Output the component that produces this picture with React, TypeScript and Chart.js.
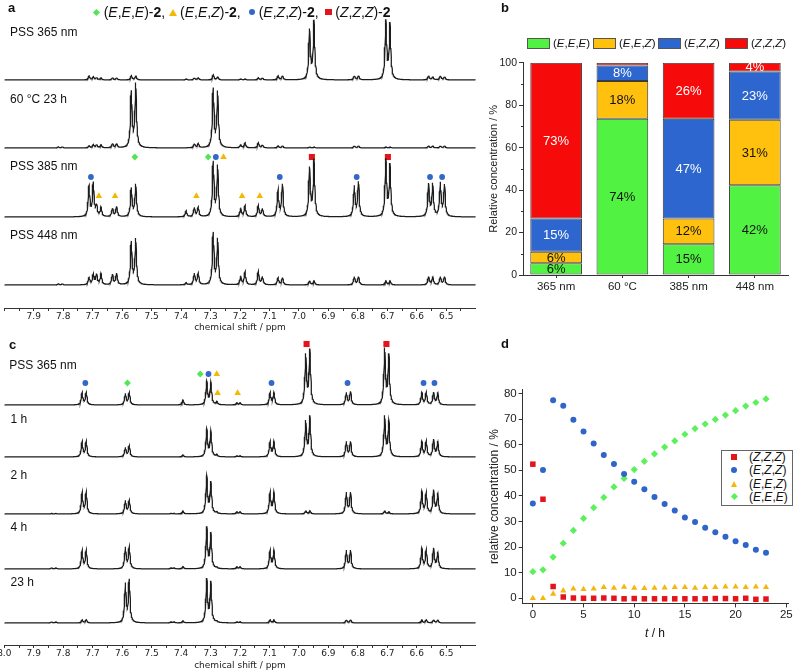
import React, { useEffect, useRef } from 'react';
import { Chart, registerables } from 'chart.js';
Chart.register(...registerables);

const FONT = "'Liberation Sans', Arial, Helvetica, sans-serif";
const NMR_FONT = "'DejaVu Sans', Verdana, sans-serif";

// ---------------- Panel a : 1H NMR line list (ppm) and intensities ----------------
const linesA = [7.817, 7.803, 7.7125, 7.698, 7.687, 7.672, 7.633, 7.619, 7.569, 7.554, 7.383, 7.355, 7.342, 7.291, 7.276, 7.198, 7.183, 7.138, 7.124, 7.071, 7.056, 6.964, 6.949, 6.812, 6.798, 6.705, 6.691, 6.560, 6.546, 6.520, 6.506];
const intA365 = [0, 0, 4, 3, 2, 2, 2, 2, 4, 4, 1, 2, 2, 5, 3, 1, 1, 2, 2, 4, 4, 49, 58, 4, 4, 58, 55, 4, 3, 4, 3];
const intA60 = [1, 1, 2, 3, 3, 3, 4, 4, 55, 63, 0, 4, 4, 58, 55, 3, 5, 5, 3, 2, 2, 1, 1, 2, 2, 1, 1, 2, 2, 2, 2];
const intA385 = [0, 0, 30, 33, 10, 9, 8, 10, 28, 32, 6, 9, 9, 54, 50, 8, 11, 11, 8, 26, 32, 48, 56, 30, 34, 56, 51, 32, 32, 33, 31];
const intA448 = [1, 1, 7, 10, 10, 11, 10, 11, 42, 45, 2, 11, 11, 51, 45, 8, 13, 13, 8, 7, 7, 4, 4, 8, 8, 4, 4, 8, 8, 8, 8];
const labelsA = ['PSS 365 nm', '60 °C 23 h', 'PSS 385 nm', 'PSS 448 nm'];

// signal assignments (ppm) marked on the PSS 385 nm spectrum: [ppm, row]
const marksA_EEE = [[7.557, 0], [7.308, 0]];
const marksA_EEZ = [[7.256, 0], [7.679, 2], [7.624, 2], [7.348, 2], [7.193, 2], [7.133, 2]];
const marksA_EZZ = [[7.282, 0], [7.706, 1], [7.065, 1], [6.804, 1], [6.555, 1], [6.514, 1]];
const marksA_ZZZ = [[6.956, 0], [6.698, 0]];

// ---------------- Panel c : thermal relaxation spectra ----------------
const linesC = [7.840, 7.825, 7.736, 7.722, 7.589, 7.576, 7.435, 7.425, 7.394, 7.313, 7.299, 7.279, 7.211, 7.200, 7.098, 7.085, 6.977, 6.963, 6.839, 6.825, 6.709, 6.695, 6.583, 6.568, 6.543, 6.529];
const intC365 = [0, 0, 12, 12, 11, 12, 0, 0, 5, 23, 22, 3, 2, 2, 12, 12, 49, 54, 12, 13, 55, 49, 12, 12, 12, 12];
const intC1h = [0, 0, 15, 15, 9, 11, 0, 0, 2, 27, 25, 2, 1, 1, 15, 15, 35, 40, 15, 15, 40, 35, 15, 15, 17, 15];
const intC2h = [0.5, 0.5, 21, 21, 13, 13, 0.5, 0.5, 3, 37, 31, 1.5, 2, 2, 21, 21, 3, 3, 21, 21, 3, 2, 22, 20, 23, 20];
const intC4h = [1, 1, 18, 18, 21, 21, 1, 1, 2.3, 41, 35, 1, 2, 2, 18, 18, 0, 0, 18, 18, 0, 0, 20, 18, 20, 16];
const intC23h = [1, 1, 3, 3, 38, 42, 1, 1, 2, 43, 40, 1, 1, 1, 3, 3, 0, 0, 3, 3, 0, 0, 3, 3, 3, 3];
const labelsC = ['PSS 365 nm', '1 h', '2 h', '4 h', '23 h'];

const marksC_EEE = [[7.335, 1], [7.582, 2]];
const marksC_EEZ = [[7.279, 1], [7.276, 3], [7.208, 3]];
const marksC_EZZ = [[7.307, 1], [7.725, 2], [7.093, 2], [6.835, 2], [6.577, 2], [6.540, 2]];
const marksC_ZZZ = [[6.974, 0], [6.703, 0]];

const ppmTickLabels = ['8.0', '7.9', '7.8', '7.7', '7.6', '7.5', '7.4', '7.3', '7.2', '7.1', '7.0', '6.9', '6.8', '6.7', '6.6', '6.5'];

// ---------------- Panel b : stacked composition ----------------
const catsB = ['365 nm', '60 °C', '385 nm', '448 nm'];
const bEEE = [5.5, 73.6, 14.5, 42.3];
const bEEZ = [5.5, 17.8, 12.1, 30.8];
const bEZZ = [15.6, 7.3, 47.0, 22.7];
const bZZZ = [73.4, 1.3, 26.4, 4.2];
const bLabEEE = ['6%', '74%', '15%', '42%'];
const bLabEEZ = ['6%', '18%', '12%', '31%'];
const bLabEZZ = ['15%', '8%', '47%', '23%'];
const bLabZZZ = ['73%', '', '26%', '4%'];

// ---------------- Panel d : kinetics ----------------
const hours = [0, 1, 2, 3, 4, 5, 6, 7, 8, 9, 10, 11, 12, 13, 14, 15, 16, 17, 18, 19, 20, 21, 22, 23];
const dZZZ = [52.4, 38.7, 4.6, 0.5, 0.1, 0, 0, 0.1, 0, -0.2, -0.1, -0.2, -0.2, -0.2, -0.2, -0.2, -0.2, -0.2, -0.1, -0.1, -0.2, 0, -0.4, -0.3];
const dEZZ = [37.0, 50.1, 77.4, 75.2, 69.8, 65.2, 60.5, 56.0, 52.5, 48.6, 45.5, 42.6, 39.6, 36.8, 34.3, 31.6, 29.8, 27.6, 25.8, 24.0, 22.3, 20.8, 19.0, 17.8];
const dEEZ = [0, 0, 1.7, 3.0, 3.7, 3.5, 3.7, 4.3, 4.0, 4.4, 4.0, 3.9, 4.0, 4.1, 4.3, 4.3, 4.0, 4.3, 4.3, 4.5, 4.5, 4.3, 4.5, 4.3];
const dEEE = [10.4, 11.1, 16.1, 21.5, 26.5, 31.2, 35.4, 39.4, 43.5, 46.8, 50.3, 53.5, 56.4, 59.1, 61.5, 64.1, 66.3, 68.1, 69.9, 71.6, 73.3, 75.1, 76.5, 77.9];

// ---------------- styling / layout constants ----------------
const PPM_MIN = 6.4, PPM_MAX = 8.0, STEP = 0.001, GAMMA = 0.0032;
const offsetsA = [228, 160, 91, 23];
const offsetsC = [240, 188, 131, 76, 22];
const markRowsA = [151, 131, 112];
const markRowsC = [301, 271, 262, 252];
const COL = { EEE: '#55E455', EEZ: '#F4B800', EZZ: '#3468C8', ZZZ: '#E3141B' };
const BAR = { EEE: '#52F243', EEZ: '#FFC10E', EZZ: '#2C66CE', ZZZ: '#F70A0A' };
const AX = '#333';

function spectrum(lines: number[], ints: number[], offset: number) {
  const xs: number[] = [];
  const n = Math.round((PPM_MAX - PPM_MIN) / STEP);
  for (let i = 0; i <= n; i++) xs.push(PPM_MIN + i * STEP);
  for (const l of lines) xs.push(l);
  xs.sort((a, b) => a - b);
  return xs.map((x) => {
    let y = offset;
    for (let k = 0; k < lines.length; k++) {
      const d = (x - lines[k]) / GAMMA;
      y += ints[k] / (1 + d * d);
    }
    return { x, y };
  });
}

function lineSet(data: any[]) {
  return { type: 'line', data, borderColor: '#1c1c1c', borderWidth: 1.25, pointRadius: 0, tension: 0, parsing: false, normalized: true, fill: false };
}

function markerSet(marks: number[][], rows: number[], style: string, color: string, radius: number) {
  return {
    type: 'line', data: marks.map(([p, r]) => ({ x: p, y: rows[r] })), showLine: false, parsing: false,
    pointStyle: style, pointRadius: radius, pointBackgroundColor: color, pointBorderColor: color, pointBorderWidth: 0, clip: false,
  };
}

const minorTicks = {
  id: 'minorTicks',
  afterDraw(chart: any, _a: any, opts: any) {
    const axes = opts && opts.axes;
    if (!axes) return;
    const ctx = chart.ctx;
    ctx.save();
    ctx.lineWidth = 1;
    axes.forEach((ax: any) => {
      const s = chart.scales[ax.id];
      ctx.strokeStyle = ax.color;
      ax.values.forEach((v: number) => {
        const p = Math.round(s.getPixelForValue(v)) + 0.5;
        ctx.beginPath();
        if (s.isHorizontal()) { ctx.moveTo(p, s.top); ctx.lineTo(p, s.top + ax.len); }
        else { ctx.moveTo(s.right, p); ctx.lineTo(s.right - ax.len, p); }
        ctx.stroke();
      });
    });
    ctx.restore();
  },
};

const barLabels = {
  id: 'barLabels',
  afterDatasetsDraw(chart: any, _a: any, opts: any) {
    const ctx = chart.ctx;
    ctx.save();
    ctx.font = `13px ${FONT}`;
    ctx.textAlign = 'center';
    ctx.textBaseline = 'middle';
    chart.data.datasets.forEach((ds: any, i: number) => {
      const meta = chart.getDatasetMeta(i);
      meta.data.forEach((el: any, j: number) => {
        const t = opts.labels[i][j];
        if (!t) return;
        const { x, y, base } = el.getProps(['x', 'y', 'base'], true);
        ctx.fillStyle = opts.colors[i];
        ctx.fillText(t, x, (y + base) / 2 + 0.5);
      });
    });
    ctx.restore();
  },
};

function nmrX(showFirst: boolean) {
  const majors = ppmTickLabels.map(Number);
  const vals: number[] = [];
  majors.forEach((v) => { vals.push(v); vals.push(Math.round((v - 0.05) * 100) / 100); });
  return {
    type: 'linear', min: PPM_MIN, max: PPM_MAX, reverse: true,
    afterBuildTicks: (s: any) => { s.ticks = vals.map((v) => ({ value: v })); },
    afterFit: (s: any) => { s.height = showFirst ? 26 : 25; s.paddingLeft = 0; s.paddingRight = 0; },
    ticks: {
      autoSkip: false, maxRotation: 0, minRotation: 0, padding: 0, color: '#222',
      font: { family: NMR_FONT, size: 9 },
      callback: (v: number) => {
        if (Math.abs(v * 10 - Math.round(v * 10)) > 1e-6) return '';
        if (!showFirst && Math.abs(v - 8.0) < 1e-6) return '';
        const i = ppmTickLabels.indexOf(v.toFixed(1));
        return i >= 0 ? ppmTickLabels[i] : '';
      },
    },
    grid: { drawOnChartArea: false, tickLength: 3, color: AX, tickWidth: 1 },
    border: { color: AX, width: 1 },
    title: { display: true, text: 'chemical shift / ppm', color: '#222', font: { family: NMR_FONT, size: 9 }, padding: 0 },
  };
}

function configA(): any {
  const ints = [intA365, intA60, intA385, intA448];
  return {
    type: 'line',
    data: {
      datasets: [
        ...ints.map((h, i) => lineSet(spectrum(linesA, h, offsetsA[i]))),
        markerSet(marksA_EEE, markRowsA, 'rectRot', COL.EEE, 3.4),
        markerSet(marksA_EEZ, markRowsA, 'triangle', COL.EEZ, 3.8),
        markerSet(marksA_EZZ, markRowsA, 'circle', COL.EZZ, 2.9),
        markerSet(marksA_ZZZ, markRowsA, 'rect', COL.ZZZ, 4.3),
      ],
    },
    options: {
      responsive: false, animation: false, events: [],
      layout: { padding: { top: 14, left: 2, right: 3.4, bottom: 0 } },
      plugins: { legend: { display: false }, tooltip: { enabled: false } },
      scales: { x: nmrX(false), y: { display: false, min: 0, max: 294 } },
    },
  };
}

function configC(): any {
  const ints = [intC365, intC1h, intC2h, intC4h, intC23h];
  return {
    type: 'line',
    data: {
      datasets: [
        ...ints.map((h, i) => lineSet(spectrum(linesC, h, offsetsC[i]))),
        markerSet(marksC_EEE, markRowsC, 'rectRot', COL.EEE, 3.4),
        markerSet(marksC_EEZ, markRowsC, 'triangle', COL.EEZ, 3.8),
        markerSet(marksC_EZZ, markRowsC, 'circle', COL.EZZ, 2.9),
        markerSet(marksC_ZZZ, markRowsC, 'rect', COL.ZZZ, 4.3),
      ],
    },
    options: {
      responsive: false, animation: false, events: [],
      layout: { padding: { top: 5, left: 3.8, right: 3.7, bottom: 0 } },
      plugins: { legend: { display: false }, tooltip: { enabled: false } },
      scales: { x: nmrX(true), y: { display: false, min: 0, max: 307 } },
    },
  };
}

function configB(): any {
  const mk = (data: number[], c: string) => ({
    data, backgroundColor: c, borderColor: '#3a3a3a', borderWidth: 1, borderSkipped: false,
    barPercentage: 0.78, categoryPercentage: 1,
  });
  return {
    type: 'bar',
    data: {
      labels: catsB,
      datasets: [mk(bEEE, BAR.EEE), mk(bEEZ, BAR.EEZ), mk(bEZZ, BAR.EZZ), mk(bZZZ, BAR.ZZZ)],
    },
    plugins: [barLabels, minorTicks],
    options: {
      responsive: false, animation: false, events: [],
      layout: { padding: { top: 62.7, right: 6, left: 0, bottom: 0 } },
      plugins: {
        legend: { display: false }, tooltip: { enabled: false },
        barLabels: { labels: [bLabEEE, bLabEEZ, bLabEZZ, bLabZZZ], colors: ['#111', '#111', '#fff', '#fff'] },
        minorTicks: { axes: [{ id: 'y', values: [10, 30, 50, 70, 90], len: 2, color: AX }] },
      },
      scales: {
        x: {
          stacked: true,
          grid: { offset: false, drawOnChartArea: false, tickLength: 3, color: AX },
          border: { color: AX },
          ticks: { color: '#222', padding: 2, font: { family: FONT, size: 11.5 }, maxRotation: 0 },
          afterFit: (s: any) => { s.height = 25; s.paddingLeft = 0; s.paddingRight = 0; },
        },
        y: {
          stacked: true, min: 0, max: 100,
          ticks: { stepSize: 20, color: '#222', padding: 2, font: { family: FONT, size: 10.5 } },
          grid: { drawOnChartArea: false, tickLength: 4, color: AX },
          border: { color: AX },
          title: { display: true, text: 'Relative concentration / %', color: '#222', font: { family: FONT, size: 11 }, padding: { top: 7, bottom: 0 } },
          afterFit: (s: any) => { s.width = 43; s.paddingTop = 0; s.paddingBottom = 0; },
        },
      },
    },
  };
}

function configD(): any {
  const mk = (data: number[], style: string, c: string, r: number) => ({
    type: 'scatter', data: hours.map((t, i) => ({ x: t, y: data[i] })), showLine: false,
    pointStyle: style, pointRadius: r, pointBackgroundColor: c, pointBorderColor: c, pointBorderWidth: 0, clip: false,
  });
  return {
    type: 'scatter',
    data: {
      datasets: [
        mk(dEZZ, 'circle', '#2F64C8', 3),
        mk(dEEE, 'rectRot', '#5CF05C', 3.6),
        mk(dEEZ, 'triangle', '#F4B70C', 3.6),
        mk(dZZZ, 'rect', '#E3141B', 3.9),
      ],
    },
    options: {
      responsive: false, animation: false, events: [],
      layout: { padding: { top: 29.7, right: 5.7, left: 0, bottom: 0 } },
      plugins: { legend: { display: false }, tooltip: { enabled: false } },
      scales: {
        x: {
          type: 'linear', min: -1, max: 25.2,
          ticks: { stepSize: 5, includeBounds: false, color: '#222', padding: 1, font: { family: FONT, size: 11.5 } },
          grid: { drawOnChartArea: false, tickLength: 4, color: AX },
          border: { color: AX },
          afterFit: (s: any) => { s.height = 37.6; s.paddingLeft = 0; s.paddingRight = 0; },
        },
        y: {
          type: 'linear', min: -2, max: 81.5,
          ticks: { stepSize: 10, includeBounds: false, color: '#222', padding: 2, font: { family: FONT, size: 11.5 } },
          grid: { drawOnChartArea: false, tickLength: 4, color: AX },
          border: { color: AX },
          title: { display: true, text: 'relative concentration / %', color: '#222', font: { family: FONT, size: 12 }, padding: { top: 7, bottom: 0 } },
          afterFit: (s: any) => { s.width = 42.7; s.paddingTop = 0; s.paddingBottom = 0; },
        },
      },
    },
  };
}

const Sq = ({ c, s = 6 }: any) => <span style={{ display: 'inline-block', width: s, height: s, background: c }} />;
const Ci = ({ c, s = 6 }: any) => <span style={{ display: 'inline-block', width: s, height: s, borderRadius: '50%', background: c }} />;
const Tri = ({ c, w = 7, h = 6 }: any) => (
  <span style={{ display: 'inline-block', width: 0, height: 0, borderLeft: `${w / 2}px solid transparent`, borderRight: `${w / 2}px solid transparent`, borderBottom: `${h}px solid ${c}` }} />
);
const Dia = ({ c, s = 4.6 }: any) => <span style={{ display: 'inline-block', width: s, height: s, background: c, transform: 'rotate(45deg)' }} />;

const Iso = ({ t }: { t: string }) => {
  const parts = t.split(',');
  return (
    <>
      (
      {parts.map((p, i) => (
        <React.Fragment key={i}>
          <i>{p}</i>
          {i < parts.length - 1 ? ',' : ''}
        </React.Fragment>
      ))}
      )
    </>
  );
};

const abs = (left: number, top: number, extra: any = {}) => ({ position: 'absolute' as const, left, top, whiteSpace: 'nowrap' as const, ...extra });

export default function App() {
  const aRef = useRef<HTMLCanvasElement>(null);
  const bRef = useRef<HTMLCanvasElement>(null);
  const cRef = useRef<HTMLCanvasElement>(null);
  const dRef = useRef<HTMLCanvasElement>(null);

  useEffect(() => {
    const charts = [
      new Chart(aRef.current as HTMLCanvasElement, configA()),
      new Chart(bRef.current as HTMLCanvasElement, configB()),
      new Chart(cRef.current as HTMLCanvasElement, configC()),
      new Chart(dRef.current as HTMLCanvasElement, configD()),
    ];
    return () => charts.forEach((c) => c.destroy());
  }, []);

  const labelYA = [32, 99, 166, 235];
  const labelYC = [365, 419, 475, 527, 582];
  const topLegend = [
    { mx: 96.7, shape: <Dia c={COL.EEE} s={4.8} />, iso: 'E,E,E', comma: true },
    { mx: 173, shape: <Tri c={COL.EEZ} w={8} h={7} />, iso: 'E,E,Z', comma: true },
    { mx: 251.7, shape: <Ci c={COL.EZZ} s={6} />, iso: 'E,Z,Z', comma: true },
    { mx: 328.3, shape: <Sq c={COL.ZZZ} s={6.5} />, iso: 'Z,Z,Z', comma: false },
  ];
  const bLegend = [
    { x: 527, c: BAR.EEE, iso: 'E,E,E' },
    { x: 593, c: BAR.EEZ, iso: 'E,E,Z' },
    { x: 658, c: BAR.EZZ, iso: 'E,Z,Z' },
    { x: 725, c: BAR.ZZZ, iso: 'Z,Z,Z' },
  ];
  const dLegend = [
    { shape: <Sq c="#E3141B" s={5.5} />, iso: 'Z,Z,Z' },
    { shape: <Ci c="#2F64C8" s={6} />, iso: 'E,Z,Z' },
    { shape: <Tri c="#F4B70C" w={7} h={6} />, iso: 'E,E,Z' },
    { shape: <Dia c="#5CF05C" s={4.8} />, iso: 'E,E,E' },
  ];

  return (
    <div style={{ position: 'absolute', left: 0, top: 0, width: 794, height: 671, overflow: 'hidden', background: '#fff', fontFamily: FONT, color: '#111' }}>
      <canvas ref={aRef} width={480} height={333} style={{ position: 'absolute', left: 0, top: 0, width: 480, height: 333 }} />
      <canvas ref={cRef} width={480} height={338} style={{ position: 'absolute', left: 0, top: 333, width: 480, height: 338 }} />
      <canvas ref={bRef} width={314} height={300} style={{ position: 'absolute', left: 480, top: 0, width: 314, height: 300 }} />
      <canvas ref={dRef} width={314} height={281} style={{ position: 'absolute', left: 480, top: 360, width: 314, height: 281 }} />

      {/* panel letters */}
      <div style={abs(8, 0, { fontWeight: 'bold', fontSize: 13, lineHeight: '15px' })}>a</div>
      <div style={abs(501, 0, { fontWeight: 'bold', fontSize: 13, lineHeight: '15px' })}>b</div>
      <div style={abs(9, 337, { fontWeight: 'bold', fontSize: 13, lineHeight: '15px' })}>c</div>
      <div style={abs(501, 336, { fontWeight: 'bold', fontSize: 13, lineHeight: '15px' })}>d</div>

      {/* panel a legend line */}
      {topLegend.map((g, i) => (
        <React.Fragment key={i}>
          <div style={abs(g.mx - 5, 4, { width: 10, height: 16, display: 'flex', alignItems: 'center', justifyContent: 'center' })}>{g.shape}</div>
          <div style={abs(g.mx + 7, 4, { fontSize: 14, lineHeight: '16px' })}>
            <Iso t={g.iso} />-<b>2</b>{g.comma ? ',' : ''}
          </div>
        </React.Fragment>
      ))}

      {/* trace labels */}
      {labelsA.map((t, i) => (
        <div key={'a' + i} style={abs(10, labelYA[i] - 7, { fontSize: 12, lineHeight: '14px' })}>{t}</div>
      ))}
      {labelsC.map((t, i) => (
        <div key={'c' + i} style={abs(i === 0 ? 9.3 : 10.5, labelYC[i] - 7, { fontSize: 12, lineHeight: '14px' })}>{t}</div>
      ))}

      {/* panel b legend */}
      {bLegend.map((g, i) => (
        <React.Fragment key={i}>
          <div style={abs(g.x, 38, { width: 23, height: 11, boxSizing: 'border-box', background: g.c, border: '1px solid #555' })} />
          <div style={abs(g.x + 26, 36, { fontSize: 11.5, lineHeight: '14px' })}><Iso t={g.iso} /></div>
        </React.Fragment>
      ))}

      {/* panel d legend */}
      <div style={abs(721, 450, { width: 72, height: 56, boxSizing: 'border-box', border: '1px solid #666', background: '#fff' })} />
      {dLegend.map((g, i) => (
        <React.Fragment key={i}>
          <div style={abs(729, 457 + i * 13.3 - 5, { width: 10, height: 10, display: 'flex', alignItems: 'center', justifyContent: 'center' })}>{g.shape}</div>
          <div style={abs(749, 457 + i * 13.3 - 7, { fontSize: 12, lineHeight: '14px' })}><Iso t={g.iso} /></div>
        </React.Fragment>
      ))}
      <div style={abs(605, 626, { width: 100, textAlign: 'center', fontSize: 12, lineHeight: '14px' })}><i>t</i> / h</div>
    </div>
  );
}
